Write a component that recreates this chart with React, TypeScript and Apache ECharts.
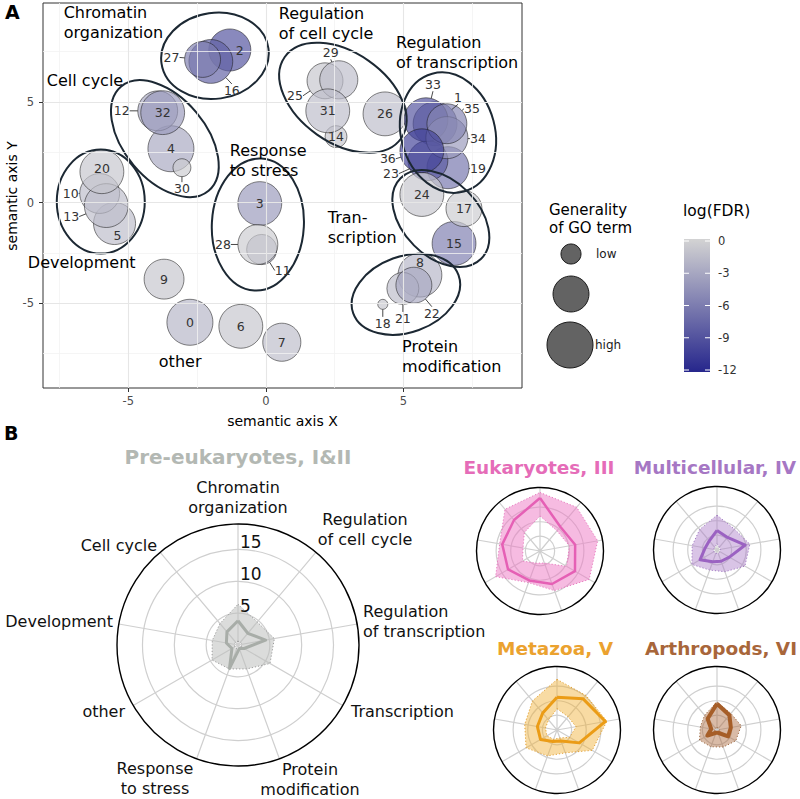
import React, { useEffect, useRef } from 'react';
import * as echarts from 'echarts';

const FONT = "'DejaVu Sans', sans-serif";

// ---------------- Panel A data ----------------
const termX = [-2.76, 6.15, -1.31, -0.22, -3.45, -5.5, -0.91, 0.58, 5.6, -3.7, -6.04, -0.15, -3.93, -5.8, 2.55, 6.84, -2.0, 7.2, 4.25, 6.62, -5.96, 4.98, 5.38, 5.89, 5.67, 2.15, 4.33, -2.3, -0.29, 2.65, -3.05, 2.25, -3.75, 5.82, 6.58, 6.58, 5.67];
const termY = [-5.94, 3.91, 7.57, -0.05, 2.67, -1.04, -6.14, -6.93, -3.6, -3.8, 0.45, -2.33, 4.55, -0.15, 3.27, -2.03, 7.0, -0.3, -5.05, 1.73, 1.53, -4.26, -4.1, 2.08, 0.4, 6.04, 4.4, 7.1, -2.08, 6.09, 1.73, 4.55, 4.46, 4.11, 3.22, 3.91, 2.57];
const termGenerality = [1.0, 0.94, 0.89, 0.94, 1.0, 0.89, 0.94, 0.78, 0.94, 0.83, 0.83, 0.56, 0.83, 0.94, 0.33, 0.94, 0.94, 0.72, 0.0, 0.89, 0.94, 0.61, 0.72, 0.83, 0.94, 0.72, 0.94, 0.72, 0.83, 0.78, 0.22, 0.94, 0.94, 0.94, 0.89, 0.83, 0.94];
const termLogFDR = [-2, -7, -9, -4, -3, -1.5, -1, -1.5, -2, -1, -1.5, -2.5, -3, -1.5, -1, -6, -8, -0.5, -1, -6.5, -1, -1.5, -3, -8.5, -1, -1, -1.5, -6, -0.5, -1.5, -0.5, -1.5, -4, -9, -4, -5.5, -10];

const groupNames = ['Chromatin\norganization', 'Cell cycle', 'Development', 'other', 'Response\nto stress', 'Regulation\nof cell cycle', 'Regulation\nof transcription', 'Tran-\nscription', 'Protein\nmodification'];
const groupLabelX = [-7.35, -7.96, -8.65, -3.89, -1.31, 0.47, 4.73, 2.25, 4.95];
const groupLabelY = [8.91, 6.04, -2.97, -7.87, 2.08, 8.86, 7.43, -1.26, -7.65];

const ellipseCX = [-1.85, -3.67, -6.0, -0.29, 2.8, 6.62, 6.36, 5.09];
const ellipseCY = [7.28, 3.17, 0.05, -1.09, 5.2, 3.47, -0.79, -4.55];

const xMajorTicks = [-5, 0, 5];
const yMajorTicks = [-5, 0, 5];
const xMinorTicks = [-7.5, -2.5, 2.5, 7.5];
const yMinorTicks = [-7.5, -2.5, 2.5, 7.5];

const fdrTicks = [0, -3, -6, -9, -12];
const sizeLegendLevels = [0.28, 0.72, 1.0];
const sizeLegendLabels = ['low', '', 'high'];

// ---------------- Panel B data ----------------
const radarCategories = ['Chromatin\norganization', 'Regulation\nof cell cycle', 'Regulation\nof transcription', 'Transcription', 'Protein\nmodification', 'Response\nto stress', 'other', 'Development', 'Cell cycle'];
const radarTicks = [5, 10, 15];
const radarTitles = ['Pre-eukaryotes, I&II', 'Eukaryotes, III', 'Multicellular, IV', 'Metazoa, V', 'Arthropods, VI'];

const preMedian = [3.8, 2.4, 4.4, 1.1, 0.6, 3.9, 1.1, 1.85, 2.7];
const preUpper = [6.4, 4.7, 5.8, 5.8, 4.0, 4.0, 4.7, 4.1, 4.4];
const preLower = [0.6, 0.6, 0.6, 0.6, 0.6, 0.6, 0.6, 0.6, 0.6];

const eukMedian = [18.1, 10.8, 12.2, 13.8, 12.0, 10.7, 12.6, 13.1, 13.8];
const eukUpper = [20.0, 19.5, 20.0, 19.4, 14.4, 11.5, 17.5, 14.0, 18.6];
const eukLower = [12.0, 9.0, 10.2, 10.5, 4.4, 4.4, 6.9, 5.9, 8.3];

const multiMedian = [6.7, 5.6, 9.8, 4.9, 4.1, 4.3, 6.7, 4.1, 4.1];
const multiUpper = [11.9, 9.3, 11.4, 11.0, 7.9, 7.3, 9.9, 8.6, 9.2];
const multiLower = [2.2, 1.2, 1.2, 1.2, 1.2, 1.2, 1.2, 1.2, 1.2];

const metaMedian = [11.2, 13.9, 16.8, 8.8, 4.0, 4.2, 6.5, 6.8, 7.6];
const metaUpper = [17.3, 15.4, 17.3, 13.9, 8.3, 9.4, 12.2, 11.2, 13.0];
const metaLower = [7.3, 5.9, 6.6, 5.0, 2.9, 3.4, 4.0, 4.0, 4.5];

const arthMedian = [9.0, 6.6, 4.8, 4.4, 1.0, 1.0, 3.8, 2.0, 5.0];
const arthUpper = [9.6, 7.4, 8.4, 7.4, 6.2, 6.1, 6.9, 5.8, 6.6];
const arthLower = [0.8, 0.8, 0.8, 0.8, 0.8, 0.8, 0.8, 0.8, 0.8];

// ---------------- layout / style (not data) ----------------
const symbolDiameter = (g: number) => 10 + 36 * g;

// ellipse geometry in px: semi-axis a along angle (deg, counter-clockwise), b across
const ellipseShape = [
  { a: 54, b: 43, angle: 8 },
  { a: 68, b: 41, angle: -50 },
  { a: 52, b: 44, angle: 90 },
  { a: 66, b: 46, angle: 87 },
  { a: 71, b: 45, angle: -35 },
  { a: 61, b: 47, angle: 105 },
  { a: 57, b: 38, angle: -45 },
  { a: 56, b: 38, angle: 20 },
];

const outsideOffsets: Record<number, [number, number]> = {
  27: [-31, -2], 16: [21, 29], 12: [-36, 0], 30: [0, 21], 10: [-29, 0], 13: [-35, 11],
  28: [-35, 0], 11: [21, 21], 25: [-30, 15], 29: [-8, -27], 33: [7, -35], 1: [23, -26],
  35: [25, -15], 34: [31, 1], 36: [-34, 8], 23: [-37, 13], 19: [30, 1], 22: [18, 28],
  21: [0, 30], 18: [0, 19],
};
const insideOffsets: Record<number, [number, number]> = { 2: [10, 1], 20: [0, -3], 5: [3, 12], 8: [0, -13] };

const polarLayout = [
  { center: [238, 645], radius: 121, max: 19 },
  { center: [540, 551], radius: 63.5, max: 21.7 },
  { center: [717, 550], radius: 63.5, max: 21.7 },
  { center: [557, 730], radius: 63.5, max: 21.7 },
  { center: [717, 730], radius: 63.5, max: 21.7 },
];
const radarStyles = [
  { title: '#b3b8b3', line: '#a8ada8', fill: 'rgba(190,192,190,0.55)', edge: '#9c9c9c', width: 3 },
  { title: '#e56cb8', line: '#e560b5', fill: 'rgba(238,120,195,0.5)', edge: '#e87cc0', width: 2.5 },
  { title: '#a677c4', line: '#9b62c2', fill: 'rgba(170,125,200,0.45)', edge: '#a27bc3', width: 3 },
  { title: '#eba22f', line: '#eb9c16', fill: 'rgba(240,175,50,0.45)', edge: '#e3a032', width: 3 },
  { title: '#a8663a', line: '#a65e28', fill: 'rgba(170,105,60,0.45)', edge: '#9c6a44', width: 4 },
];
const titlePos = [[238, 457], [539, 467], [715, 467], [555, 648], [721, 648]];
// label offsets from main radar centre: [dx, dy, align]
const radarLabelLayout: [number, number, string][] = [
  [0, -148, 'center'], [127, -116, 'center'], [125, -24, 'left'], [113, 66, 'left'],
  [72, 134, 'center'], [-83, 133, 'center'], [-113, 66, 'right'], [-125, -24, 'right'], [-81, -100, 'right'],
];

const radarSets = [
  { median: preMedian, upper: preUpper, lower: preLower },
  { median: eukMedian, upper: eukUpper, lower: eukLower },
  { median: multiMedian, upper: multiUpper, lower: multiLower },
  { median: metaMedian, upper: metaUpper, lower: metaLower },
  { median: arthMedian, upper: arthUpper, lower: arthLower },
];

const LOW_COLOR = '#26268c';
const HIGH_COLOR = '#d3d3d3';

const numLabel = { fontSize: 12.5, color: '#333', opacity: 1, fontFamily: FONT, textBorderWidth: 0, textBorderColor: 'rgba(0,0,0,0)', textShadowBlur: 0 };

function buildOption(): any {
  const n = radarCategories.length;
  const outsideIds = Object.keys(outsideOffsets).map(Number);
  const insideIds = termX.map((_, i) => i).filter((i) => !(i in outsideOffsets));

  const gridLines: any[] = [];
  xMinorTicks.forEach((v) => gridLines.push({ xAxis: v, lineStyle: { color: '#f3f3f3', width: 0.8, type: 'solid' } }));
  yMinorTicks.forEach((v) => gridLines.push({ yAxis: v, lineStyle: { color: '#f3f3f3', width: 0.8, type: 'solid' } }));
  xMajorTicks.forEach((v) => gridLines.push({ xAxis: v, lineStyle: { color: '#e6e6e6', width: 1.1, type: 'solid' } }));
  yMajorTicks.forEach((v) => gridLines.push({ yAxis: v, lineStyle: { color: '#e6e6e6', width: 1.1, type: 'solid' } }));

  const series: any[] = [
    {
      type: 'scatter', data: [], silent: true, z: 1,
      markLine: { silent: true, symbol: ['none', 'none'], label: { show: false }, data: gridLines, animation: false },
    },
    {
      type: 'scatter', z: 2,
      data: termX.map((x, i) => [x, termY[i], termGenerality[i], termLogFDR[i], i]),
      symbolSize: (v: any) => symbolDiameter(v[2]),
      itemStyle: { opacity: 0.68, borderColor: '#1a1a1a', borderWidth: 0.8 },
      emphasis: { disabled: true },
    },
    {
      type: 'custom', z: 3, silent: true, clip: false,
      data: ellipseCX.map((x, i) => [x, ellipseCY[i]]),
      renderItem: (params: any, api: any) => {
        const p = api.coord([api.value(0), api.value(1)]);
        const s = ellipseShape[params.dataIndex];
        return {
          type: 'ellipse', x: p[0], y: p[1], rotation: (s.angle * Math.PI) / 180,
          shape: { cx: 0, cy: 0, rx: s.a, ry: s.b },
          style: { fill: 'none', stroke: '#1c2833', lineWidth: 2 },
        };
      },
    },
    {
      type: 'scatter', z: 6, silent: true,
      data: outsideIds.map((id) => [termX[id], termY[id], termGenerality[id], id]),
      symbolSize: (v: any) => symbolDiameter(v[2]),
      itemStyle: { color: '#333333', opacity: 0 },
      emphasis: { disabled: true },
      label: { show: true, position: 'inside', formatter: (p: any) => String(p.value[3]), ...numLabel },
      labelLayout: (p: any) => {
        const o = outsideOffsets[outsideIds[p.dataIndex]];
        return { dx: o[0], dy: o[1] };
      },
      labelLine: { show: true, lineStyle: { color: '#333', width: 0.9, opacity: 1 } },
    },
    {
      type: 'scatter', z: 6, silent: true, symbolSize: 0,
      itemStyle: { color: '#333' },
      data: insideIds.map((id) => ({
        value: [termX[id], termY[id], id],
        label: { offset: insideOffsets[id] || [0, 0] },
      })),
      label: { show: true, position: 'inside', formatter: (p: any) => String(p.value[2]), ...numLabel },
    },
    {
      type: 'scatter', z: 7, silent: true, symbolSize: 0, clip: false,
      itemStyle: { color: '#000' },
      data: groupNames.map((name, i) => ({ name, value: [groupLabelX[i], groupLabelY[i]] })),
      label: { show: true, position: 'right', distance: 0, formatter: '{b}', fontSize: 16, lineHeight: 20, color: '#000', opacity: 1, fontFamily: FONT, align: 'left', textBorderWidth: 0 },
    },
  ];

  radarSets.forEach((set, k) => {
    const st = radarStyles[k];
    series.push({
      type: 'custom', coordinateSystem: 'polar', polarIndex: k, silent: true, z: 3, clip: false,
      data: radarCategories.map((_, i) => [set.upper[i], i, set.lower[i]]),
      renderItem: (params: any, api: any) => {
        if (params.dataIndex !== 0) return { type: 'group', children: [] };
        const outer: number[][] = [];
        const inner: number[][] = [];
        for (let j = 0; j < n; j++) {
          outer.push(api.coord([api.value(0, j), api.value(1, j)]));
          inner.push(api.coord([api.value(2, j), api.value(1, j)]));
        }
        const innerRev = [inner[0], ...inner.slice(1).reverse(), inner[0]];
        const pts = [...outer, outer[0], ...innerRev];
        return {
          type: 'group',
          children: [
            { type: 'polygon', shape: { points: pts }, style: { fill: st.fill, stroke: 'none' } },
            { type: 'polyline', shape: { points: [...outer, outer[0]] }, style: { fill: 'none', stroke: st.edge, lineWidth: 1, lineDash: [1.2, 2] } },
            { type: 'polyline', shape: { points: [...inner, inner[0]] }, style: { fill: 'none', stroke: st.edge, lineWidth: 1, lineDash: [1.2, 2] } },
          ],
        };
      },
    });
    series.push({
      type: 'line', coordinateSystem: 'polar', polarIndex: k, silent: true, z: 4,
      data: [...set.median.map((m, i) => [m, i]), [set.median[0], n]],
      symbol: 'none', showSymbol: false,
      lineStyle: { color: st.line, width: st.width, join: 'round' },
    });
  });

  return {
    animation: false,
    textStyle: { fontFamily: FONT },
    grid: { left: 43, top: 3, width: 479, height: 385, show: true, borderColor: '#333', borderWidth: 1, backgroundColor: 'transparent', outerBoundsMode: 'none' },
    xAxis: {
      type: 'value', min: -8.1, max: 9.31,
      axisLine: { show: false, onZero: false },
      splitLine: { show: false },
      axisTick: { show: true, length: 4, lineStyle: { color: '#333' }, customValues: xMajorTicks },
      axisLabel: { customValues: xMajorTicks, color: '#4d4d4d', fontSize: 11.5, margin: 7, fontFamily: FONT },
      name: 'semantic axis X', nameLocation: 'middle', nameGap: 26,
      nameTextStyle: { fontSize: 14, color: '#000', fontFamily: FONT },
    },
    yAxis: {
      type: 'value', min: -9.2, max: 9.9,
      axisLine: { show: false, onZero: false },
      splitLine: { show: false },
      axisTick: { show: true, length: 4, lineStyle: { color: '#333' }, customValues: yMajorTicks },
      axisLabel: { customValues: yMajorTicks, color: '#4d4d4d', fontSize: 11.5, margin: 9, fontFamily: FONT },
    },
    visualMap: {
      type: 'continuous', show: false, min: -12, max: 0, dimension: 3, seriesIndex: [1],
      inRange: { color: [LOW_COLOR, HIGH_COLOR] },
    },
    polar: polarLayout.map((p) => ({ center: p.center, radius: p.radius })),
    angleAxis: polarLayout.map((p, k) => ({
      polarIndex: k, type: 'value', min: 0, max: n, interval: 1, startAngle: 90, clockwise: true,
      axisLine: { show: true, lineStyle: { color: '#000', width: 1.4 } },
      axisTick: { show: false }, axisLabel: { show: false },
      splitLine: { show: true, lineStyle: { color: '#cfcfcf', width: 1.2 } },
    })),
    radiusAxis: polarLayout.map((p, k) => ({
      polarIndex: k, type: 'value', min: 0, max: p.max, interval: 5,
      axisLine: { show: false }, axisTick: { show: false }, axisLabel: { show: false },
      splitLine: {
        show: true,
        lineStyle: {
          width: 1.2,
          color: [0, 5, 10, 15, 20, 25].map((v) => (v > 0 && radarTicks.indexOf(v) < 0 ? 'rgba(0,0,0,0)' : '#cfcfcf')),
        },
      },
    })),
    series,
  };
}

function txt(text: string, x: number, y: number, o: any = {}): any {
  return {
    type: 'text', silent: true, z: 50,
    x: o.rotation ? x : 0, y: o.rotation ? y : 0, rotation: o.rotation || 0,
    style: {
      text, x: o.rotation ? 0 : x, y: o.rotation ? 0 : y,
      fontSize: o.fontSize || 14, fontFamily: o.fontFamily || FONT, fontWeight: o.fontWeight || 'normal',
      fill: o.fill || '#000',
      align: o.align || 'left', textAlign: o.align || 'left',
      verticalAlign: o.verticalAlign || 'middle', textVerticalAlign: o.verticalAlign || 'middle',
      lineHeight: o.lineHeight,
    },
  };
}

function buildGraphics(chart: any): any[] {
  const g: any[] = [];
  g.push(txt('A', 5, 12, { fontSize: 19, fontWeight: 'bold' }));
  g.push(txt('B', 4, 433, { fontSize: 19, fontWeight: 'bold' }));
  g.push(txt('semantic axis Y', 12, 196, { fontSize: 14, align: 'center', rotation: Math.PI / 2 }));

  // size legend
  g.push(txt('Generality\nof GO term', 549, 219, { fontSize: 15, lineHeight: 18 }));
  const sizeCenters = [[571, 254], [571, 294], [570, 345]];
  sizeLegendLevels.forEach((lv, i) => {
    const r = symbolDiameter(lv) / 2;
    g.push({ type: 'circle', silent: true, z: 50, shape: { cx: sizeCenters[i][0], cy: sizeCenters[i][1], r }, style: { fill: '#636363', stroke: '#1a1a1a', lineWidth: 1 } });
    if (sizeLegendLabels[i]) g.push(txt(sizeLegendLabels[i], sizeCenters[i][0] + 25, sizeCenters[i][1], { fontSize: 12, fill: '#1a1a1a' }));
  });

  // colour bar
  g.push(txt('log(FDR)', 683, 211, { fontSize: 15.5 }));
  const barX = 684, barY = 239, barW = 26, barH = 133;
  g.push({
    type: 'rect', silent: true, z: 50, shape: { x: barX, y: barY, width: barW, height: barH },
    style: { fill: { type: 'linear', x: 0, y: 0, x2: 0, y2: 1, colorStops: [{ offset: 0, color: HIGH_COLOR }, { offset: 1, color: LOW_COLOR }] } },
  });
  const tickTop = 241, tickBot = 370;
  fdrTicks.forEach((v) => {
    const y = tickTop + ((0 - v) / 12) * (tickBot - tickTop);
    g.push({ type: 'line', silent: true, z: 51, shape: { x1: barX, y1: y, x2: barX + 5, y2: y }, style: { stroke: '#fff', lineWidth: 1 } });
    g.push({ type: 'line', silent: true, z: 51, shape: { x1: barX + barW - 5, y1: y, x2: barX + barW, y2: y }, style: { stroke: '#fff', lineWidth: 1 } });
    g.push(txt(String(v), 718, y, { fontSize: 11.5, fill: '#333' }));
  });

  // radar titles
  radarTitles.forEach((t, k) => {
    g.push(txt(t, titlePos[k][0], titlePos[k][1], { fontSize: k === 0 ? 20 : 18.5, fontWeight: 'bold', fill: radarStyles[k].title, align: 'center' }));
  });

  // main radar labels
  let c = chart.convertToPixel({ polarIndex: 0 }, [0, 0]);
  if (!c) c = polarLayout[0].center;
  radarCategories.forEach((name, i) => {
    const L = radarLabelLayout[i];
    g.push(txt(name, c[0] + L[0], c[1] + L[1], { fontSize: 16, lineHeight: 20, align: L[2], fill: '#111' }));
  });
  radarTicks.forEach((v) => {
    let p = chart.convertToPixel({ polarIndex: 0 }, [v, 0]);
    if (!p) p = [c[0], c[1] - (v / polarLayout[0].max) * polarLayout[0].radius];
    g.push(txt(String(v), p[0] + 2, p[1] + 1, { fontSize: 17, verticalAlign: 'bottom', fill: '#111' }));
  });
  return g;
}

export default function App() {
  const ref = useRef<HTMLDivElement>(null);
  useEffect(() => {
    const chart = echarts.init(ref.current as HTMLDivElement, null, { renderer: 'svg' });
    chart.setOption(buildOption());
    chart.setOption({ graphic: buildGraphics(chart) });
    return () => chart.dispose();
  }, []);
  return <div ref={ref} style={{ position: 'absolute', left: 0, top: 0, width: 800, height: 799, background: '#fff' }} />;
}
